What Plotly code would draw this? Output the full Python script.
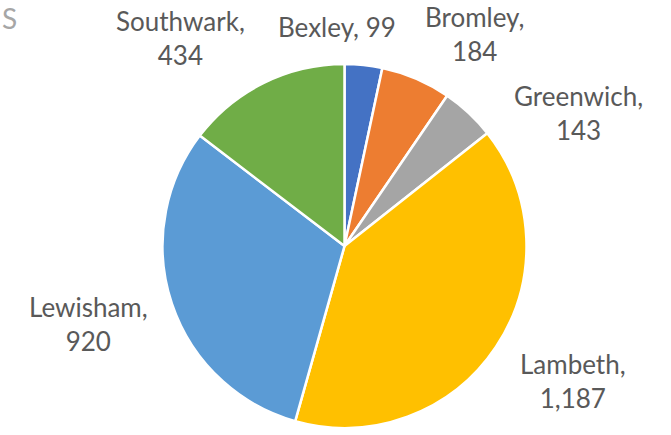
import plotly.graph_objects as go

boroughs = ["Bexley", "Bromley", "Greenwich", "Lambeth", "Lewisham", "Southwark"]
counts = [99, 184, 143, 1187, 920, 434]
colors = ["#4472C4", "#ED7D31", "#A5A5A5", "#FFC000", "#5B9BD5", "#70AD47"]

W, H = 671, 435
FONT = "Lato"
LABEL_COLOR = "#595959"

# label layout: (x px, y px of label centre, wrap value onto second line)
label_pos = {
    "Bexley": (337, 27, False),
    "Bromley": (475, 34, True),
    "Greenwich": (578, 113, True),
    "Lambeth": (573, 381, True),
    "Lewisham": (88, 324, True),
    "Southwark": (180, 38, True),
}

cx, cy, r = 344.5, 246, 182
fig = go.Figure(go.Pie(
    labels=boroughs,
    values=counts,
    sort=False,
    direction="clockwise",
    rotation=0,
    marker=dict(colors=colors, line=dict(color="white", width=2.5)),
    textinfo="none",
    hoverinfo="label+value",
    showlegend=False,
    domain=dict(x=[(cx - r) / W, (cx + r) / W], y=[1 - (cy + r) / H, 1 - (cy - r) / H]),
))

annotations = []
for name, val in zip(boroughs, counts):
    x, y, wrap = label_pos[name]
    sep = ",<br>" if wrap else ", "
    annotations.append(dict(
        x=x / W, y=1 - y / H, xref="paper", yref="paper",
        text=f"{name}{sep}{val:,}", showarrow=False,
        xanchor="center", yanchor="middle", align="center",
        font=dict(family=FONT, size=26, color=LABEL_COLOR),
    ))

# chart title fragment at the top-left edge
annotations.append(dict(
    x=0, y=1 - 18 / H, xref="paper", yref="paper", text="S", showarrow=False,
    xanchor="left", yanchor="middle",
    font=dict(family=FONT, size=28, color="#A6A6A6"),
))

fig.update_layout(
    width=W, height=H,
    margin=dict(l=0, r=0, t=0, b=0),
    paper_bgcolor="white", plot_bgcolor="white",
    annotations=annotations,
)
fig.write_html("out.html")
